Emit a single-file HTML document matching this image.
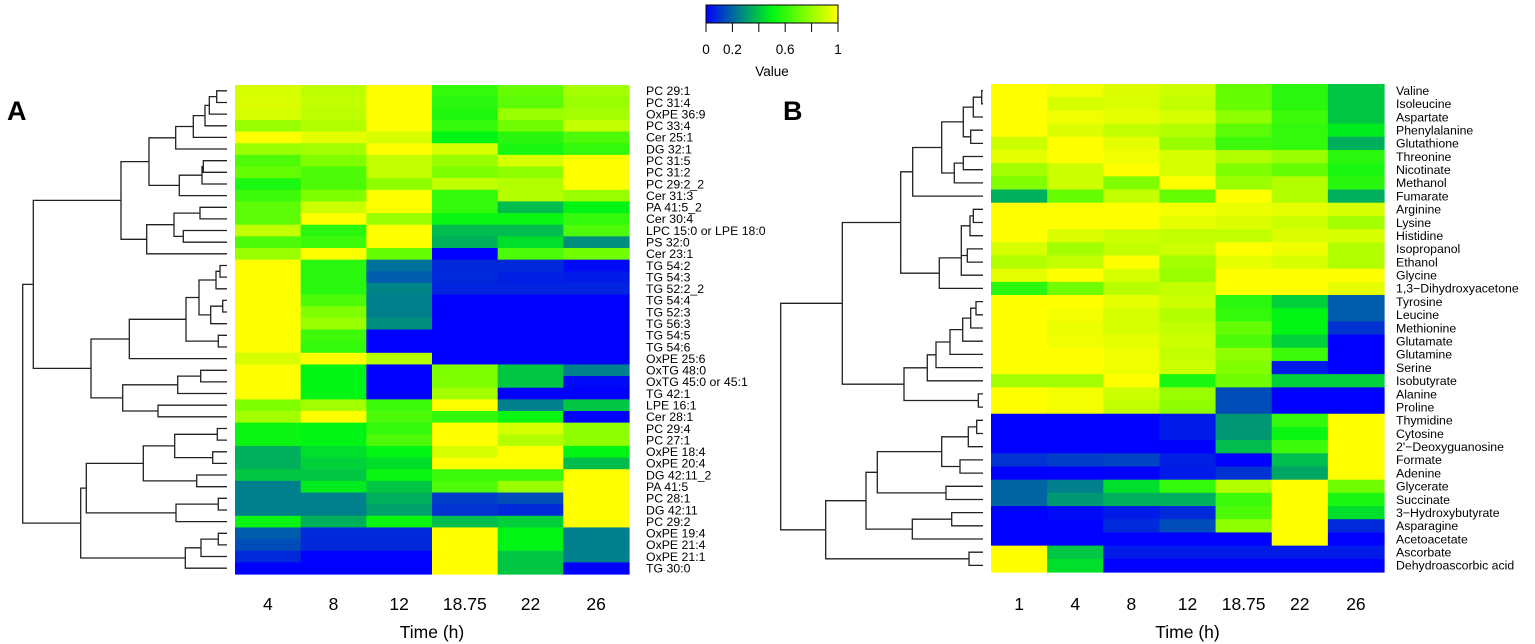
<!DOCTYPE html>
<html><head><meta charset="utf-8"><style>
html,body{margin:0;padding:0;background:#fff;}
svg{display:block;font-family:"Liberation Sans",sans-serif;}
</style></head><body>
<svg id="c" width="1535" height="644" viewBox="0 0 1535 644"></svg>
<script>
const colsA = ["4","8","12","18.75","22","26"];
const rowsA = ["PC 29:1","PC 31:4","OxPE 36:9","PC 33:4","Cer 25:1","DG 32:1","PC 31:5","PC 31:2","PC 29:2_2","Cer 31:3","PA 41:5_2","Cer 30:4","LPC 15:0 or LPE 18:0","PS 32:0","Cer 23:1","TG 54:2","TG 54:3","TG 52:2_2","TG 54:4","TG 52:3","TG 56:3","TG 54:5","TG 54:6","OxPE 25:6","OxTG 48:0","OxTG 45:0 or 45:1","TG 42:1","LPE 16:1","Cer 28:1","PC 29:4","PC 27:1","OxPE 18:4","OxPE 20:4","DG 42:11_2","PA 41:5","PC 28:1","DG 42:11","PC 29:2","OxPE 19:4","OxPE 21:4","OxPE 21:1","TG 30:0"];
const valsA = [
[0.92,0.87,1,0.6,0.7,0.82],[0.93,0.88,1,0.58,0.68,0.8],[0.92,0.87,1,0.56,0.8,0.82],[0.8,0.85,1,0.6,0.72,0.88],
[1,0.95,0.92,0.5,0.58,0.65],[0.8,0.82,1,0.92,0.55,0.6],[0.65,0.75,0.88,0.8,0.92,1],[0.7,0.65,0.88,0.75,0.78,1],
[0.55,0.65,0.78,0.88,0.85,1],[0.62,0.75,1,0.6,0.85,0.8],[0.68,0.9,1,0.6,0.38,0.5],[0.68,1,0.8,0.52,0.52,0.6],
[0.88,0.58,1,0.38,0.38,0.65],[0.65,0.62,1,0.35,0.45,0.28],[0.8,1,0.7,0,0.65,0.72],[1,0.58,0.22,0.08,0.08,0.02],
[1,0.58,0.18,0.08,0.06,0.05],[1,0.58,0.26,0.07,0.07,0.07],[1,0.65,0.25,0,0,0],[1,0.75,0.25,0,0,0],
[1,0.8,0.28,0,0,0],[1,0.62,0,0,0,0],[1,0.6,0,0,0,0],[0.92,1,0.85,0,0,0],
[1,0.5,0,0.75,0.4,0.25],[1,0.5,0,0.75,0.4,0.02],[1,0.5,0,0.82,0,0],[0.75,0.82,0.62,1,0.25,0.4],
[0.82,1,0.65,0.6,0.52,0],[0.52,0.5,0.6,1,0.92,0.78],[0.52,0.5,0.65,1,0.85,0.78],[0.35,0.45,0.5,0.92,1,0.5],
[0.35,0.42,0.45,1,1,0.38],[0.4,0.4,0.52,0.62,0.62,1],[0.25,0.48,0.4,0.65,0.8,1],[0.25,0.25,0.35,0.12,0.15,1],
[0.25,0.25,0.32,0.1,0.08,1],[0.52,0.35,0.52,0.38,0.42,1],[0.18,0.08,0.08,1,0.5,0.25],[0.15,0.08,0.08,1,0.5,0.25],
[0.08,0,0,1,0.4,0.25],[0,0,0,1,0.4,0]];
const colsB = ["1","4","8","12","18.75","22","26"];
const rowsB = ["Valine","Isoleucine","Aspartate","Phenylalanine","Glutathione","Threonine","Nicotinate","Methanol","Fumarate","Arginine","Lysine","Histidine","Isopropanol","Ethanol","Glycine","1,3\u2212Dihydroxyacetone","Tyrosine","Leucine","Methionine","Glutamate","Glutamine","Serine","Isobutyrate","Alanine","Proline","Thymidine","Cytosine","2'\u2212Deoxyguanosine","Formate","Adenine","Glycerate","Succinate","3\u2212Hydroxybutyrate","Asparagine","Acetoacetate","Ascorbate","Dehydroascorbic acid"];
const valsB = [
[1,0.97,0.93,0.9,0.7,0.58,0.4],[1,0.92,0.93,0.88,0.7,0.58,0.4],[1,0.97,0.95,0.92,0.78,0.62,0.4],[1,0.93,0.88,0.85,0.68,0.6,0.48],
[0.9,1,0.95,0.8,0.62,0.6,0.35],[0.95,1,0.97,0.92,0.85,0.8,0.58],[0.82,0.9,1,0.92,0.75,0.7,0.55],[0.75,0.9,0.75,1,0.8,0.85,0.58],
[0.35,0.7,0.88,0.7,1,0.85,0.35],[1,1,1,0.98,0.96,0.95,0.92],[1,1,1,0.95,0.93,0.9,0.82],[1,0.93,0.9,0.88,0.88,0.93,0.92],
[0.92,0.82,0.88,0.9,1,0.97,0.85],[0.85,0.88,1,0.82,0.95,0.92,0.85],[0.95,1,0.92,0.8,1,1,1],[0.58,0.72,0.86,0.88,1,1,0.95],
[1,1,0.95,0.9,0.58,0.42,0.18],[1,0.98,0.92,0.85,0.6,0.5,0.18],[1,0.96,0.92,0.88,0.7,0.5,0.1],[1,0.97,0.95,0.9,0.65,0.42,0],
[1,1,0.97,0.88,0.78,0.62,0],[1,1,0.97,0.9,0.75,0.05,0],[0.82,0.82,1,0.55,0.72,0.42,0.42],[1,0.98,0.9,0.8,0.15,0,0],
[1,0.98,0.88,0.78,0.15,0,0],[0,0,0,0.05,0.3,0.6,1],[0,0,0,0.05,0.3,0.52,1],[0,0,0,0,0.38,0.62,1],
[0.1,0.12,0.13,0.06,0,0.38,1],[0,0,0,0.05,0.1,0.33,1],[0.2,0.25,0.45,0.6,0.85,1,0.72],[0.2,0.3,0.35,0.35,0.62,1,0.55],
[0,0.02,0.05,0.08,0.65,1,0.45],[0,0,0.08,0.15,0.78,1,0.08],[0,0,0,0,0,1,0],[1,0.4,0.05,0.05,0.05,0.05,0.05],[1,0.45,0,0,0,0,0]];
const legendTicks = [0,0.2,0.4,0.6,0.8,1];
const legendLabels = ["0","0.2","","0.6","","1"];
// dendrogram merge heights (tree structure): [height, left, right]
const treeA = [68,[100,[363,[447,[527,[580,[615,[628,[650,0,1],2],3],4],5],[538,[606,[610,6,7],8],9]],[440,[522,[600,10,11],[550,12,13]],14]],[273,[388,[558,[597,[648,[660,15,16],17],[632,[668,18,19],20]],[655,21,22]],23],[368,[533,[602,24,25],26],[474,27,28]]]],[242,[259,[430,[524,[652,29,30],[638,31,32]],[590,33,34]],[528,[655,35,36],37]],[556,[603,[655,38,39],40],41]]];
const treeB = [62,[247,[422,[458,[545,[610,[640,[665,0,1],2],[632,3,4]],[583,[610,5,6],7]],8],[538,[604,[604,[630,[640,9,10],11],[622,12,13]],14],15]],[432,[502,[528,[570,[608,[632,[648,16,17],18],19],20],21],22],[655,23,24]]],[197,[318,[352,[545,[625,[650,25,26],27],[600,28,29]],[558,30,31]],[457,[575,32,33],34]],[627,35,36]]];

const svg = document.getElementById('c');
const NS='http://www.w3.org/2000/svg';
function mk(tag, attrs, parent){const e=document.createElementNS(NS,tag);for(const k in attrs)e.setAttribute(k,attrs[k]);(parent||svg).appendChild(e);return e;}
const stops=[[0,[0,0,255]],[0.25,[0,128,140]],[0.5,[0,245,20]],[0.75,[128,255,0]],[1,[255,255,0]]];
function color(v){v=Math.max(0,Math.min(1,v));for(let i=1;i<stops.length;i++){if(v<=stops[i][0]){const a=stops[i-1],b=stops[i],t=(v-a[0])/(b[0]-a[0]);const c=a[1].map((x,j)=>Math.round(x+(b[1][j]-x)*t));return `rgb(${c[0]},${c[1]},${c[2]})`;}}return 'rgb(255,255,0)';}

function panel(cfg){
  const {rows,cols,vals,x0,x1,y0,y1,labelX,tree,dx,dscale,name,letter,letterX}=cfg;
  const cw=(x1-x0)/cols.length, rh=(y1-y0)/rows.length;
  const g=mk('g',{});
  
  
  vals.forEach((r,i)=>r.forEach((v,j)=>{
    const rc=mk('rect',{x:(x0+j*cw).toFixed(2),y:(y0+i*rh).toFixed(2),width:(cw+0.6).toFixed(2),height:(rh+0.6).toFixed(2),fill:color(v)},g);
    
    
  }));
  rows.forEach((t,i)=>{
    const tx=mk('text',{x:labelX,y:(y0+(i+0.5)*rh+4.3).toFixed(2),'font-size':12.3,fill:'#000'},g);
    tx.textContent=t;
    
    
  });
  cols.forEach((t,j)=>{
    const tx=mk('text',{x:(x0+(j+0.5)*cw).toFixed(2),y:610,'font-size':17.5,'text-anchor':'middle',fill:'#000'},g);
    tx.textContent=t;
    
    
  });
  const xt=mk('text',{x:(x0+x1)/2,y:638,'font-size':17.5,'text-anchor':'middle',fill:'#000'},g);
  xt.textContent='Time (h)';
  
  
  const L=mk('text',{x:letterX,y:120,'font-size':27,'font-weight':'bold',fill:'#000'},g);
  L.textContent=letter;
  
  
  // dendrogram
  const leafEnd=x0-8;
  let d='';
  function walk(n){
    if(typeof n==='number') return {x:leafEnd,y:y0+(n+0.5)*rh};
    const hx=dx+n[0]*dscale;
    const a=walk(n[1]),b=walk(n[2]);
    d+=`M${a.x.toFixed(1)},${a.y.toFixed(1)}H${hx.toFixed(1)}V${b.y.toFixed(1)}H${b.x.toFixed(1)}`;
    return {x:hx,y:(a.y+b.y)/2};
  }
  const root=walk(tree);
  const p=mk('path',{d:d,fill:'none',stroke:'#222','stroke-width':1.3},g);
  
  
}
panel({rows:rowsA,cols:colsA,vals:valsA,x0:235,x1:629,y0:85,y1:574,labelX:646,tree:treeA,dx:0,dscale:1/3,name:'lipid',letter:'A',letterX:7});
panel({rows:rowsB,cols:colsB,vals:valsB,x0:991,x1:1384,y0:84,y1:572,labelX:1396,tree:treeB,dx:760,dscale:1/3,name:'metabolite',letter:'B',letterX:783});

// legend
const lg=mk('g',{});


const defs=mk('defs',{},lg);
const grad=mk('linearGradient',{id:'gr',x1:0,x2:1,y1:0,y2:0},defs);
for(let i=0;i<=20;i++){mk('stop',{offset:i/20,'stop-color':color(i/20)},grad);}
const lx0=706,lx1=838;
const bar=mk('rect',{x:lx0,y:5,width:lx1-lx0,height:18,fill:'url(#gr)',stroke:'#000','stroke-width':1},lg);


legendTicks.forEach((t,i)=>{
  const x=lx0+t*(lx1-lx0);
  mk('line',{x1:x,x2:x,y1:23,y2:32,stroke:'#000','stroke-width':1},lg);
  if(legendLabels[i]){
    const tx=mk('text',{x:x,y:54,'font-size':13.5,'text-anchor':'middle',fill:'#000'},lg);
    tx.textContent=legendLabels[i];
    
    
  }
});
const vt=mk('text',{x:772,y:76,'font-size':13.5,'text-anchor':'middle',fill:'#000'},lg);
vt.textContent='Value';


</script>
</body></html>
